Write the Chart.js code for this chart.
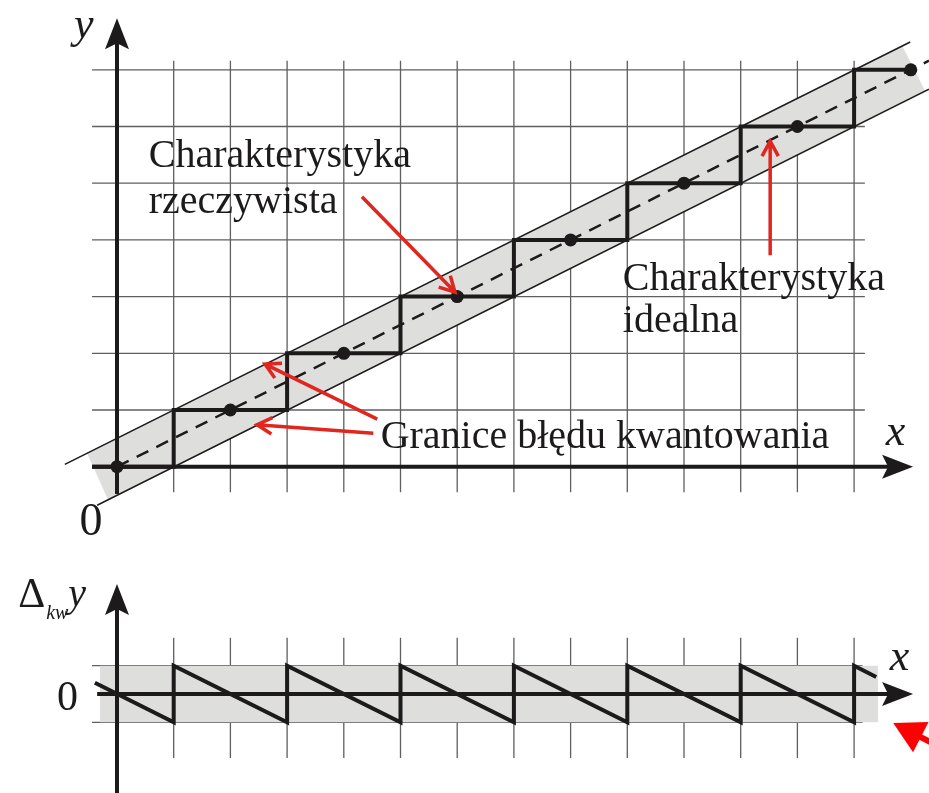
<!DOCTYPE html>
<html>
<head>
<meta charset="utf-8">
<style>
  html, body { margin: 0; padding: 0; background: #fff; }
  #wrap { position: relative; width: 929px; height: 793px; }
</style>
<script src="https://cdn.jsdelivr.net/npm/chart.js@4.4.1/dist/chart.umd.min.js"></script>
</head>
<body>
<div id="wrap"><canvas id="plot" width="929" height="793"></canvas></div>
<script>
// grid positions (one cell = one quantization step on y, half a step on x)
const xGrid = [1, 2, 3, 4, 5, 6, 7, 8, 9, 10, 11, 12, 13];
const yGrid = [1, 2, 3, 4, 5, 6, 7];
const errGrid = [-0.5, 0.5];

// ideal characteristic: sample points y = x / 2
const idealX = [0, 2, 4, 6, 8, 10, 12, 14];
const idealY = [0, 1, 2, 3, 4, 5, 6, 7];
const idealLineX = [0, 14.32];
const idealLineY = [0, 7.16];

// real (quantized) characteristic
const stepX = [-0.44, 1, 1, 3, 3, 5, 5, 7, 7, 9, 9, 11, 11, 13, 13, 14];
const stepY = [0, 0, 1, 1, 2, 2, 3, 3, 4, 4, 5, 5, 6, 6, 7, 7];

// quantization error limits
const upperX = [-0.92, 13.99];
const upperY = [0.04, 7.49];
const lowerX = [-0.35, 14.32];
const lowerY = [-0.68, 6.66];
const bandX = [-0.53, 13.85, 14.25, -0.16, -0.53];
const bandY = [0.24, 7.42, 6.63, -0.58, 0.24];

// quantization error (real - ideal)
const errX = [-0.39, 1, 1, 3, 3, 5, 5, 7, 7, 9, 9, 11, 11, 13, 13, 13.39];
const errY = [0.2, -0.5, 0.5, -0.5, 0.5, -0.5, 0.5, -0.5, 0.5, -0.5, 0.5, -0.5, 0.5, -0.5, 0.5, 0.3];
const errBandX = [-0.3, 13.42, 13.42, -0.3, -0.3];
const errBandY = [0.5, 0.5, -0.5, -0.5, 0.5];

const zip = (xs, ys) => xs.map((x, i) => ({ x: x, y: ys[i] }));

// gridline segments separated by gaps
function vLines(xs, lo, hi) {
  const out = [];
  xs.forEach(x => out.push({ x: x, y: lo }, { x: x, y: hi }, { x: x, y: null }));
  return out;
}
function hLines(ys, lo, hi) {
  const out = [];
  ys.forEach(y => out.push({ x: lo, y: y }, { x: hi, y: y }, { x: null, y: null }));
  return out;
}

const ink = '#1c1a1a';
const red = '#e0261f';
const serif = '"Liberation Serif", "Times New Roman", serif';

const axes = [
  { axis: 'y', from: [-0.44, 0], to: [14.04, 0] },
  { axis: 'y', from: [0, -0.48], to: [0, 7.91] },
  { axis: 'yErr', from: [-0.35, 0], to: [14.04, 0] },
  { axis: 'yErr', from: [0, -1.8], to: [0, 1.94] },
];

const redArrows = [
  { axis: 'y', from: [4.32, 4.76], to: [5.96, 3.08] },
  { axis: 'y', from: [11.52, 3.73], to: [11.52, 5.74] },
  { axis: 'y', from: [4.59, 0.84], to: [2.61, 1.81] },
  { axis: 'y', from: [4.52, 0.59], to: [2.47, 0.74] },
];

const texts = [
  { t: 'Charakterystyka', axis: 'y', x: 0.56, y: 5.286, font: '40px ' + serif },
  { t: 'rzeczywista', axis: 'y', x: 0.56, y: 4.474, font: '40px ' + serif },
  { t: 'Charakterystyka', axis: 'y', x: 8.92, y: 3.116, font: '40px ' + serif },
  { t: 'idealna', axis: 'y', x: 8.92, y: 2.376, font: '40px ' + serif },
  { t: 'Granice błędu kwantowania', axis: 'y', x: 4.65, y: 0.33, font: '40px ' + serif },
  { t: 'y', axis: 'y', x: -0.76, y: 7.56, font: 'italic 44px ' + serif },
  { t: '0', axis: 'y', x: -0.66, y: -1.2, font: '46px ' + serif },
  { t: 'x', axis: 'y', x: 13.56, y: 0.38, font: 'italic 44px ' + serif },
  { t: '0', axis: 'yErr', x: -1.06, y: -0.28, font: '42px ' + serif },
  { t: 'x', axis: 'yErr', x: 13.63, y: 0.42, font: 'italic 44px ' + serif },
  { t: 'Δ', axis: 'yErr', x: -1.74, y: 1.54, font: '42px ' + serif },
  { t: 'kw', axis: 'yErr', x: -1.25, y: 1.33, font: 'italic 20px ' + serif },
  { t: 'y', axis: 'yErr', x: -0.86, y: 1.56, font: 'italic 40px ' + serif },
];

function toPx(chart, axis, p) {
  return [chart.scales.x.getPixelForValue(p[0]), chart.scales[axis].getPixelForValue(p[1])];
}

const decor = {
  id: 'decor',
  afterDatasetsDraw(chart) {
    const ctx = chart.ctx;
    ctx.save();
    // axes with filled arrow heads
    axes.forEach(a => {
      const [x0, y0] = toPx(chart, a.axis, a.from);
      const [x1, y1] = toPx(chart, a.axis, a.to);
      const len = Math.hypot(x1 - x0, y1 - y0);
      const dx = (x1 - x0) / len, dy = (y1 - y0) / len;
      ctx.strokeStyle = ink;
      ctx.lineWidth = 4;
      ctx.beginPath();
      ctx.moveTo(x0, y0);
      ctx.lineTo(x1 - dx * 22, y1 - dy * 22);
      ctx.stroke();
      ctx.fillStyle = ink;
      ctx.beginPath();
      ctx.moveTo(x1, y1);
      ctx.lineTo(x1 - dx * 31 - dy * 12, y1 - dy * 31 + dx * 12);
      ctx.lineTo(x1 - dx * 25, y1 - dy * 25);
      ctx.lineTo(x1 - dx * 31 + dy * 12, y1 - dy * 31 - dx * 12);
      ctx.closePath();
      ctx.fill();
    });
    // red pointers
    ctx.strokeStyle = red;
    ctx.lineWidth = 3.5;
    redArrows.forEach(a => {
      const [x0, y0] = toPx(chart, a.axis, a.from);
      const [x1, y1] = toPx(chart, a.axis, a.to);
      const ang = Math.atan2(y1 - y0, x1 - x0);
      ctx.beginPath();
      ctx.moveTo(x0, y0);
      ctx.lineTo(x1, y1);
      ctx.moveTo(x1 - 17 * Math.cos(ang - 0.5), y1 - 17 * Math.sin(ang - 0.5));
      ctx.lineTo(x1, y1);
      ctx.lineTo(x1 - 17 * Math.cos(ang + 0.5), y1 - 17 * Math.sin(ang + 0.5));
      ctx.stroke();
    });
    // big red pointer at the lower right corner
    {
      const [x0, y0] = toPx(chart, 'yErr', [14.45, -0.9]);
      const [x1, y1] = toPx(chart, 'yErr', [13.69, -0.51]);
      const ang = Math.atan2(y1 - y0, x1 - x0);
      const c = Math.cos(ang), s = Math.sin(ang);
      ctx.strokeStyle = '#ff0000';
      ctx.fillStyle = '#ff0000';
      ctx.lineWidth = 6;
      ctx.beginPath();
      ctx.moveTo(x0, y0);
      ctx.lineTo(x1 - 25 * c, y1 - 25 * s);
      ctx.stroke();
      ctx.beginPath();
      ctx.moveTo(x1, y1);
      ctx.lineTo(x1 - 31 * c + 17 * s, y1 - 31 * s - 17 * c);
      ctx.lineTo(x1 - 31 * c - 17 * s, y1 - 31 * s + 17 * c);
      ctx.closePath();
      ctx.fill();
    }
    // labels
    ctx.fillStyle = ink;
    ctx.textBaseline = 'alphabetic';
    ctx.textAlign = 'left';
    texts.forEach(l => {
      const [x, y] = toPx(chart, l.axis, [l.x, l.y]);
      ctx.font = l.font;
      ctx.fillText(l.t, x, y);
    });
    ctx.restore();
  }
};

const line = (data, extra) => Object.assign({
  data: data,
  showLine: true,
  pointRadius: 0,
  borderColor: ink,
  borderWidth: 1,
  fill: false,
  spanGaps: false,
  clip: false,
}, extra);

new Chart(document.getElementById('plot'), {
  type: 'scatter',
  data: {
    datasets: [
      // ideal sample points
      line(zip(idealX, idealY), { showLine: false, pointRadius: 6.5, pointBackgroundColor: ink, pointBorderWidth: 0, order: 1 }),
      // real characteristic and its error
      line(zip(stepX, stepY), { borderWidth: 4, order: 2 }),
      line(zip(errX, errY), { yAxisID: 'yErr', borderWidth: 4, order: 2 }),
      // ideal characteristic
      line(zip(idealLineX, idealLineY), { borderWidth: 2.5, borderDash: [13, 9], order: 3 }),
      // limits of the quantization error
      line(zip(upperX, upperY), { borderWidth: 1.5, order: 4 }),
      line(zip(lowerX, lowerY), { borderWidth: 1.5, order: 4 }),
      line(zip(bandX, bandY), { borderWidth: 0, backgroundColor: '#dededd', fill: 'shape', order: 5 }),
      line(zip(errBandX, errBandY), { yAxisID: 'yErr', borderWidth: 0, backgroundColor: '#dededd', fill: 'shape', order: 5 }),
      // grid
      line(vLines(xGrid, -0.45, 7.16), { borderColor: '#5f5f5f', borderWidth: 1.3, order: 6 }),
      line(hLines(yGrid, -0.44, 13.19), { borderColor: '#5f5f5f', borderWidth: 1.3, order: 6 }),
      line(vLines(xGrid, -1.13, 0.99), { yAxisID: 'yErr', borderColor: '#5f5f5f', borderWidth: 1.3, order: 6 }),
      line(hLines(errGrid, -0.44, 13.15), { yAxisID: 'yErr', borderColor: '#5f5f5f', borderWidth: 1.3, order: 6 }),
    ]
  },
  options: {
    responsive: false,
    animation: false,
    events: [],
    layout: { padding: 0, autoPadding: false },
    plugins: { legend: { display: false }, tooltip: { enabled: false } },
    scales: {
      x: { type: 'linear', display: false, min: -2.0635, max: 14.321 },
      y: { type: 'linear', display: false, min: -5.7549, max: 8.231 },
      yErr: { type: 'linear', display: false, min: -1.746, max: 12.2399 },
    }
  },
  plugins: [decor]
});
</script>
</body>
</html>
